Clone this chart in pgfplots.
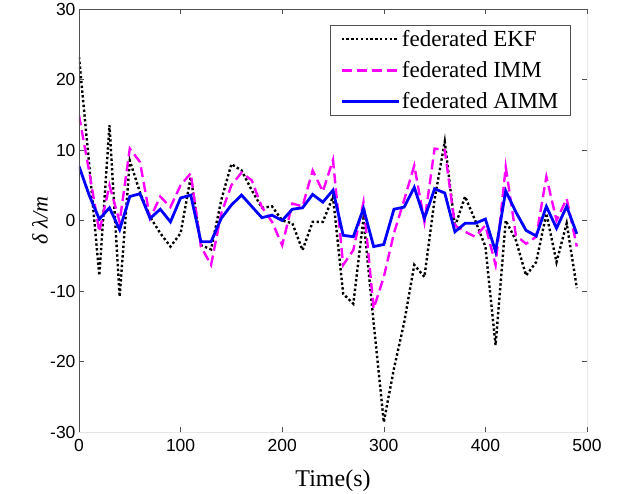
\documentclass[border=0pt]{standalone}
\usepackage{pgfplots}
\pgfplotsset{compat=1.18}
\usepackage{fontspec}
\setmainfont{Liberation Serif}
\newfontfamily\arial{Liberation Sans}
\usetikzlibrary{calc}

\definecolor{axgray}{RGB}{80,80,80}
\definecolor{imm}{RGB}{255,0,255}
\definecolor{aimm}{RGB}{0,0,255}

\begin{document}
\begin{tikzpicture}
\begin{axis}[
    scale only axis,
    width=508pt, height=423pt,
    xmin=0, xmax=500, ymin=-30, ymax=30,
    xtick={0,100,200,300,400,500},
    ytick={-30,-20,-10,0,10,20,30},
    xticklabels={0,100,200,300,400,500},
    yticklabels={-30,-20,-10,0,10,20,30},
    tick label style={font=\arial\fontsize{17.5}{19}\selectfont},
    xticklabel style={yshift=-4pt},
    tick align=inside,
    major tick length=5pt,
    tick style={axgray, line width=0.6pt},
    axis line style={draw=none},
    xlabel={Time(s)},
    ylabel={\itshape δ λ/m},
    xlabel style={font=\fontsize{24}{28}\selectfont, at={(axis description cs:0.5,-0.115)}, anchor=center},
    ylabel style={font=\fontsize{22}{26}\selectfont, at={(axis description cs:-0.077,0.5)}, anchor=center},
    legend style={at={(0.967,0.962)}, anchor=north east, draw=axgray, line width=0.6pt,
        font=\fontsize{23}{27}\selectfont, row sep=9.5pt, inner xsep=9.5pt, inner ysep=3pt},
    legend cell align=left,
    legend image code/.code={\draw[#1] (0pt,0pt) -- (57pt,0pt);},
]
\addplot[black, line width=2.4pt, dash pattern=on 2.4pt off 2.4pt] coordinates {
(0,23.2) (10,8) (20,-7.8) (30,13.5) (40,-10.8) (50,8.5) (60,4.0) (70,0.5) (80,-1.8) (90,-3.7)
(100,-1.8) (110,6.2) (120,-3.5) (130,-4.1) (140,2.9) (150,8.0) (160,7.1) (170,4.3) (180,1.8) (190,2.0)
(200,0) (210,-0.4) (220,-4.2) (230,-0.2) (240,-0.2) (250,3.4) (260,-10.4) (270,-11.8) (280,0.3) (290,-14.5)
(300,-28.6) (310,-21) (320,-14.5) (330,-6.3) (340,-8.0) (350,3) (360,11.2) (370,-0.9) (380,3.4) (390,0)
(400,-3.7) (410,-17.7) (420,0) (430,-2.8) (440,-7.8) (450,-5.9) (460,1.0) (470,-5.9) (480,-0.4) (490,-9.6)
};
\addlegendentry{federated EKF}
\addplot[imm, line width=2.4pt, dash pattern=on 10pt off 5pt] coordinates {
(0,14.9) (10,7.0) (20,-1.6) (30,5.0) (40,-0.2) (50,10.2) (60,8.3) (70,0.3) (80,3.4) (90,1.9)
(100,5.0) (110,6.7) (120,-3.7) (130,-6.3) (140,1.0) (150,5.0) (160,6.8) (170,5.7) (180,1.9) (190,-0.2)
(200,-3.5) (210,2.4) (220,2.0) (230,7.1) (240,4.1) (250,8.6) (260,-6.3) (270,-4.2) (280,2.6) (290,-12.5)
(300,-8.0) (310,-1.8) (320,2.9) (330,7.8) (340,-0.2) (350,10.2) (360,10.0) (370,-0.7) (380,-1.6) (390,-2.3)
(400,-0.7) (410,-6.3) (420,7.6) (430,-2.1) (440,-3.3) (450,-2.3) (460,6.2) (470,0) (480,3.1) (490,-3.7)
};
\addlegendentry{federated IMM}
\addplot[aimm, line width=2.8pt] coordinates {
(0,7.7) (10,3.6) (20,0.2) (30,1.8) (40,-1.3) (50,3.4) (60,3.8) (70,0.3) (80,1.6) (90,-0.2)
(100,3.2) (110,3.6) (120,-3.0) (130,-3.0) (140,0.3) (150,2.2) (160,3.6) (170,2.0) (180,0.4) (190,0.75)
(200,0) (210,1.6) (220,1.8) (230,3.7) (240,2.6) (250,4.3) (260,-2.1) (270,-2.3) (280,1.7) (290,-3.7)
(300,-3.4) (310,1.6) (320,1.9) (330,4.7) (340,0.3) (350,4.5) (360,3.9) (370,-1.6) (380,-0.4) (390,-0.4)
(400,0.2) (410,-4.4) (420,4.2) (430,1.2) (440,-1.4) (450,-2.2) (460,2.0) (470,-1.1) (480,2.0) (490,-1.9)
};
\addlegendentry{federated AIMM}
\draw[axgray, line width=0.6pt] (rel axis cs:0,0) -- (rel axis cs:0,1) -- (rel axis cs:1,1) -- (rel axis cs:1,0);
\draw[gray!20, line width=0.6pt] (rel axis cs:0,0) -- (rel axis cs:1,0);
\end{axis}
\pgfresetboundingbox
\path[use as bounding box] ($(current axis.south west)+(-79pt,-62pt)$) rectangle ($(current axis.north east)+(30pt,9pt)$);
\end{tikzpicture}
\end{document}
